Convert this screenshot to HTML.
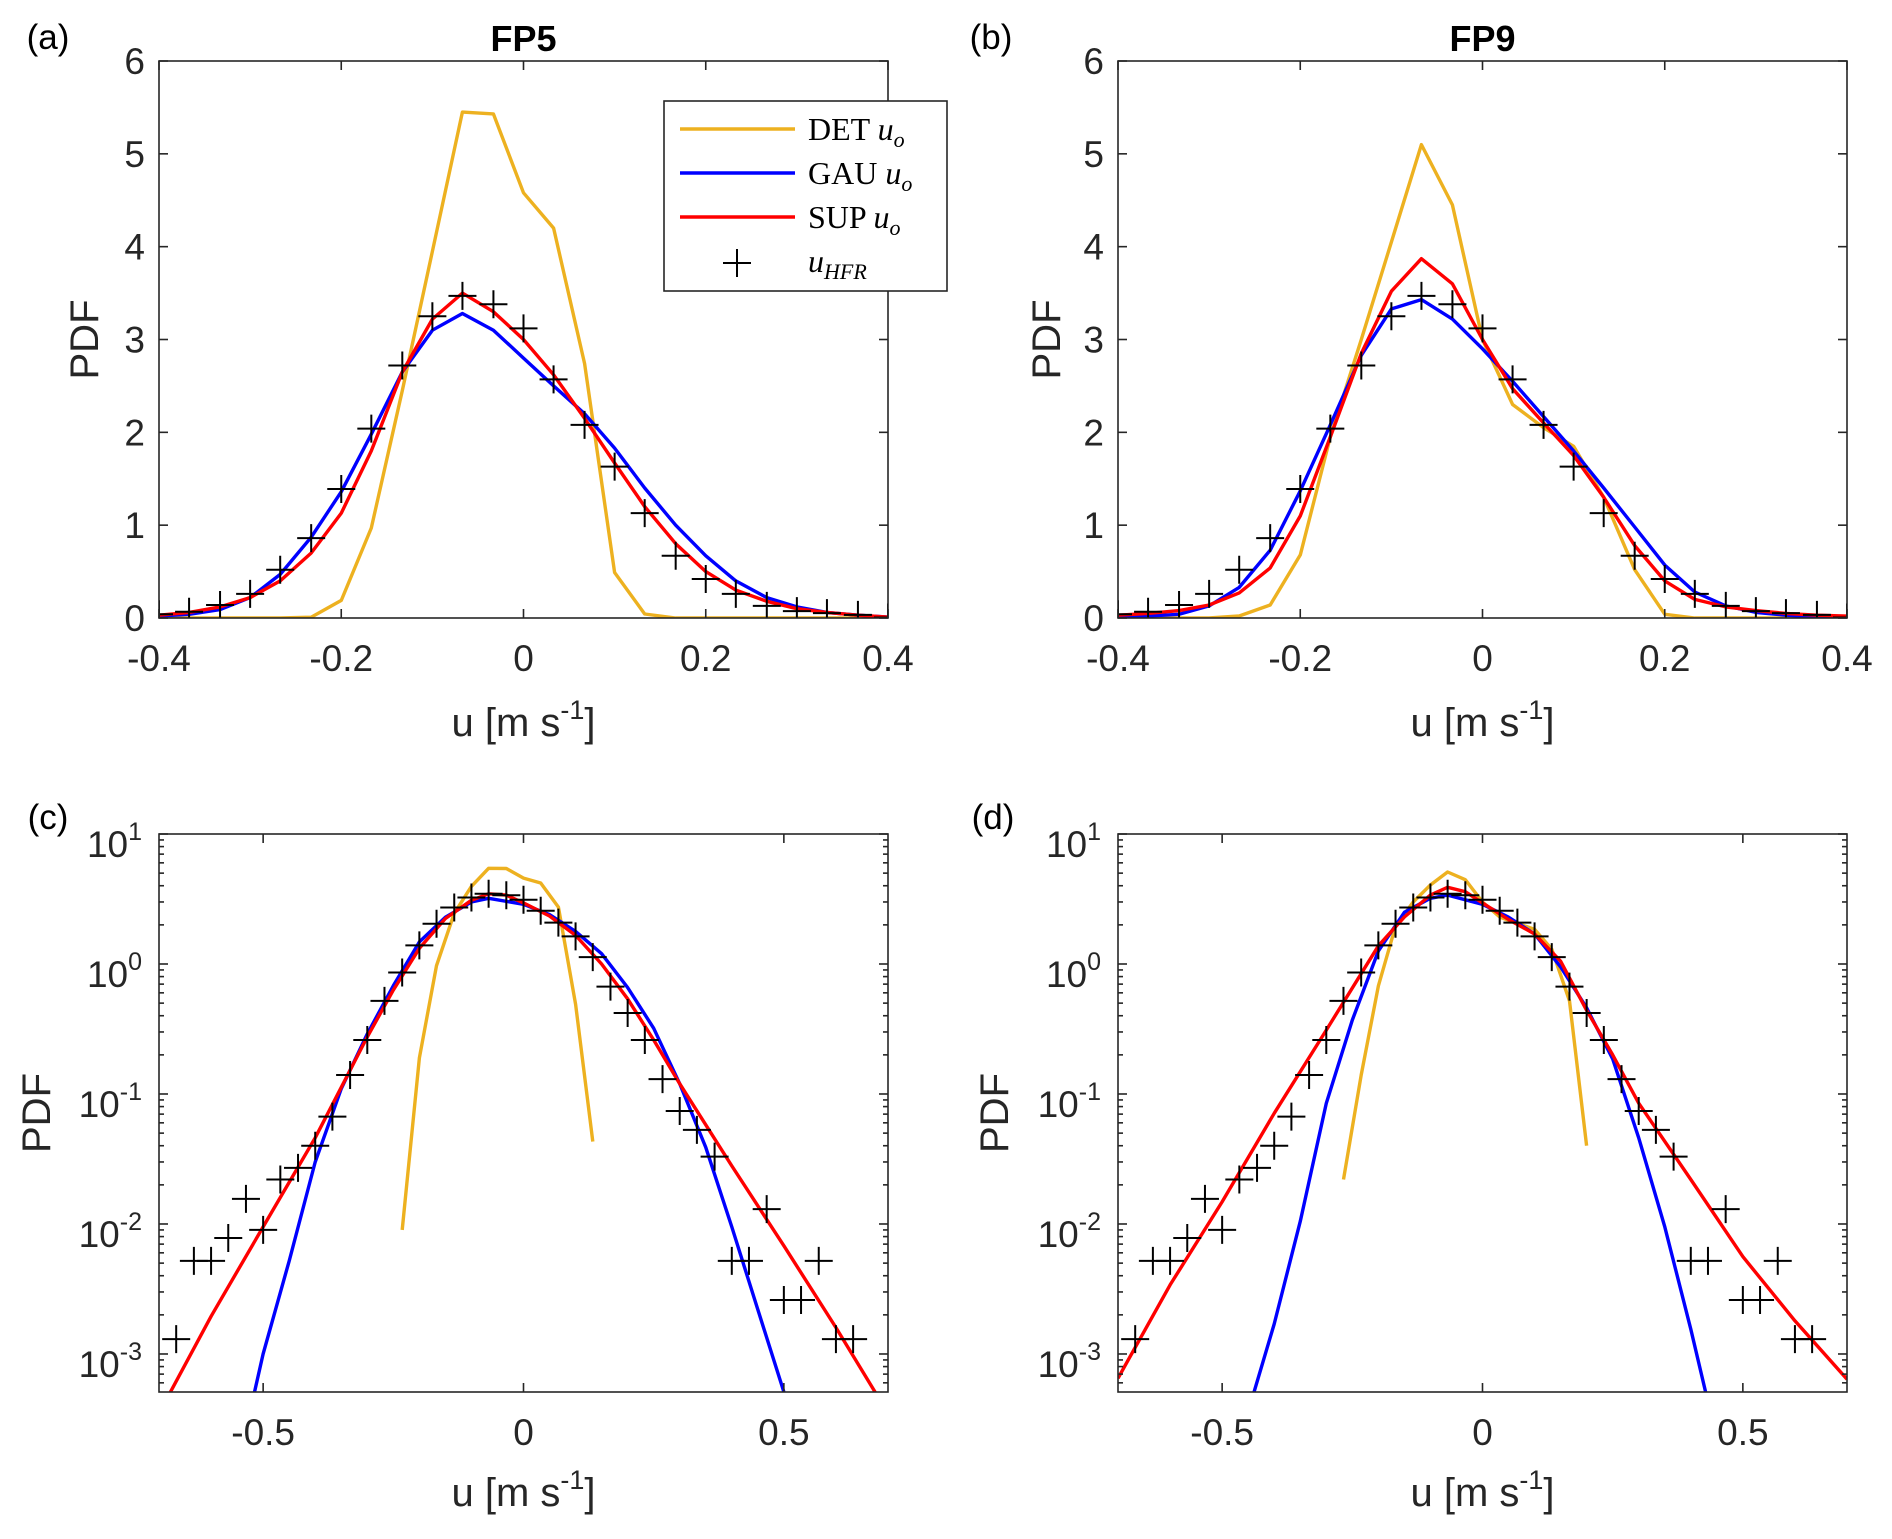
<!DOCTYPE html>
<html><head><meta charset="utf-8"><style>
html,body{margin:0;padding:0;background:#fff;}
svg{display:block;font-family:"Liberation Sans",Arial,sans-serif;}
</style></head><body>
<svg id="fig" width="1892" height="1539" viewBox="0 0 1892 1539" xmlns="http://www.w3.org/2000/svg">
<rect width="1892" height="1539" fill="#fff"/>
</svg>
<script>
// ---------- data ----------
const linU = [-0.4,-0.367,-0.333,-0.3,-0.267,-0.233,-0.2,-0.167,-0.133,-0.1,-0.067,-0.033,0,0.033,0.067,0.1,0.133,0.167,0.2,0.233,0.267,0.3,0.333,0.367,0.4];
const detA = [0,0,0,0,0,0.009,0.19,0.97,2.45,3.95,5.45,5.43,4.58,4.2,2.74,0.49,0.043,0,0,0,0,0,0,0,0];
const gauA = [0.02,0.04,0.09,0.22,0.47,0.87,1.36,1.98,2.65,3.1,3.28,3.1,2.8,2.5,2.2,1.83,1.4,1.0,0.67,0.4,0.22,0.12,0.06,0.03,0.01];
const supA = [0.03,0.06,0.12,0.22,0.4,0.7,1.13,1.8,2.65,3.22,3.5,3.3,3.0,2.62,2.15,1.67,1.2,0.8,0.5,0.3,0.18,0.1,0.06,0.03,0.01];
const detB = [0,0,0,0,0.022,0.14,0.68,1.95,3.0,4.05,5.1,4.45,3.0,2.3,2.05,1.85,1.3,0.52,0.04,0,0,0,0,0,0];
const gauB = [0.01,0.02,0.04,0.13,0.33,0.73,1.37,2.08,2.83,3.33,3.43,3.22,2.9,2.55,2.17,1.8,1.4,0.98,0.57,0.28,0.13,0.06,0.03,0.01,0.01];
const supB = [0.03,0.05,0.08,0.14,0.27,0.54,1.1,1.95,2.85,3.52,3.87,3.6,3.0,2.47,2.1,1.75,1.3,0.78,0.4,0.2,0.12,0.08,0.05,0.03,0.02];

const hfrU = [-0.667,-0.633,-0.6,-0.567,-0.533,-0.5,-0.467,-0.433,-0.4,-0.367,-0.333,-0.3,-0.267,-0.233,-0.2,-0.167,-0.133,-0.1,-0.067,-0.033,0,0.033,0.067,0.1,0.133,0.167,0.2,0.233,0.267,0.3,0.333,0.367,0.4,0.433,0.467,0.5,0.533,0.567,0.6,0.633];
const hfrV = [0.0013,0.0052,0.0052,0.0078,0.0156,0.009,0.022,0.027,0.04,0.067,0.14,0.26,0.52,0.86,1.39,2.04,2.72,3.25,3.47,3.38,3.12,2.57,2.08,1.63,1.13,0.67,0.42,0.26,0.13,0.074,0.053,0.033,0.0052,0.0052,0.013,0.0026,0.0026,0.0052,0.0013,0.0013];

const gauCU = [-0.55,-0.5,-0.45,-0.4,-0.35,-0.3,-0.25,-0.2,-0.15,-0.1,-0.067,0,0.05,0.1,0.15,0.2,0.25,0.3,0.35,0.4,0.45,0.5,0.55];
const gauCV = [0.00013,0.001,0.0052,0.03,0.11,0.29,0.68,1.48,2.29,3.0,3.2,2.88,2.4,1.78,1.2,0.66,0.32,0.12,0.039,0.0095,0.0022,0.00051,0.0001];
const supCU = [-0.7,-0.6,-0.5,-0.4,-0.3,-0.25,-0.2,-0.15,-0.1,-0.067,-0.033,0,0.05,0.1,0.15,0.2,0.25,0.3,0.4,0.5,0.6,0.7];
const supCV = [0.00035,0.00195,0.0095,0.046,0.275,0.63,1.32,2.24,3.09,3.47,3.39,2.95,2.34,1.66,1.0,0.54,0.26,0.12,0.028,0.0068,0.0016,0.00035];
const gauDU = [-0.45,-0.4,-0.35,-0.3,-0.25,-0.2,-0.15,-0.1,-0.067,0,0.05,0.1,0.15,0.2,0.25,0.3,0.35,0.4,0.45];
const gauDV = [0.00036,0.0017,0.0105,0.085,0.37,1.26,2.5,3.2,3.39,2.88,2.29,1.7,0.95,0.46,0.186,0.046,0.0095,0.00155,0.00022];
const supDU = [-0.7,-0.6,-0.5,-0.4,-0.3,-0.2,-0.15,-0.1,-0.067,-0.033,0,0.05,0.1,0.15,0.2,0.25,0.3,0.4,0.5,0.6,0.7];
const supDV = [0.00065,0.0034,0.0148,0.071,0.31,1.38,2.3,3.39,3.89,3.6,2.95,2.2,1.7,1.05,0.44,0.2,0.085,0.022,0.0056,0.0018,0.00064];

const linYTicks = [0,1,2,3,4,5,6];
const linXTicks = [-0.4,-0.2,0,0.2,0.4];
const linXLabels = ["-0.4","-0.2","0","0.2","0.4"];
const logXTicks = [-0.5,0,0.5];
const logXLabels = ["-0.5","0","0.5"];
const logYExp = [1,0,-1,-2,-3];

// ---------- drawing ----------
const NS="http://www.w3.org/2000/svg";
const svg=document.getElementById('fig');
function mk(tag,attrs,parent){const e=document.createElementNS(NS,tag);for(const k in attrs)e.setAttribute(k,attrs[k]);(parent||svg).appendChild(e);return e;}
const ORANGE="#EDB120",BLUE="#0000FF",RED="#FF0000";

function makePanel(id,box,isLog){
  const g=mk('g',{});
  
  
  const xmin=isLog?-0.7:-0.4,xmax=isLog?0.7:0.4;
  const lmin=Math.log10(5.1e-4),lmax=1;
  const sx=u=>box.x0+(u-xmin)/(xmax-xmin)*(box.x1-box.x0);
  const sy=isLog?(v=>box.y1-(Math.log10(v)-lmin)/(lmax-lmin)*(box.y1-box.y0))
                :(v=>box.y1-v/6*(box.y1-box.y0));
  const cp=mk('clipPath',{id:'clip-'+id},g);
  mk('rect',{x:box.x0,y:box.y0,width:box.x1-box.x0,height:box.y1-box.y0},cp);
  const plot=mk('g',{'clip-path':'url(#clip-'+id+')'},g);
  
  
  const tk=mk('g',{stroke:'#262626','stroke-width':1.6},g);
  
  
  const xt=isLog?logXTicks:linXTicks, xl=isLog?logXLabels:linXLabels;
  xt.forEach((t,i)=>{const x=sx(t);
    mk('line',{x1:x,x2:x,y1:box.y1,y2:box.y1-9},tk);mk('line',{x1:x,x2:x,y1:box.y0,y2:box.y0+9},tk);
    const tx=mk('text',{x:x,y:box.y1+53,'text-anchor':'middle','font-size':37,fill:'#262626'},g);
    tx.textContent=xl[i];
    
    
  });
  if(!isLog){
    linYTicks.forEach(t=>{const y=sy(t);
      mk('line',{x1:box.x0,x2:box.x0+9,y1:y,y2:y},tk);mk('line',{x1:box.x1,x2:box.x1-9,y1:y,y2:y},tk);
      const tx=mk('text',{x:box.x0-14,y:y+13,'text-anchor':'end','font-size':37,fill:'#262626'},g);
      tx.textContent=String(t);
      
      
    });
  } else {
    logYExp.forEach(e=>{const y=sy(Math.pow(10,e));
      mk('line',{x1:box.x0,x2:box.x0+9,y1:y,y2:y},tk);mk('line',{x1:box.x1,x2:box.x1-9,y1:y,y2:y},tk);
      const tx=mk('text',{x:box.x0-17,y:y+23,'text-anchor':'end','font-size':37,fill:'#262626'},g);
      
      
      tx.appendChild(document.createTextNode('10'));
      const ts=mk('tspan',{dy:-17,'font-size':25},tx);ts.textContent=String(e);
    });
    for(let e=-4;e<1;e++)for(let m=2;m<10;m++){const v=m*Math.pow(10,e);
      if(v<5.1e-4||v>10)continue;const y=sy(v);
      mk('line',{x1:box.x0,x2:box.x0+5,y1:y,y2:y},tk);mk('line',{x1:box.x1,x2:box.x1-5,y1:y,y2:y},tk);}
  }
  function line(us,vs,color,name){
    const pts=[];us.forEach((u,i)=>{if(!isLog||vs[i]>0)pts.push(sx(u).toFixed(1)+','+sy(vs[i]).toFixed(1));});
    const p=mk('polyline',{points:pts.join(' '),fill:'none',stroke:color,'stroke-width':3.4,'stroke-linejoin':'round'},plot);
    
    
  }
  function markers(){
    const mg=mk('g',{stroke:'#000','stroke-width':2},plot);
    
    
    hfrU.forEach((u,i)=>{
      if(!isLog&&(u<-0.401||u>0.401))return;
      const x=sx(u),y=sy(hfrV[i]);
      const m=mk('path',{d:`M${x-14},${y}H${x+14}M${x},${y-14}V${y+14}`},mg);
      
      
    });
  }
  return {g,sx,sy,line,markers,box};
}

function frame(p){const b=p.box;const r=mk('rect',{x:b.x0,y:b.y0,width:b.x1-b.x0,height:b.y1-b.y0,fill:'none',stroke:'#262626','stroke-width':1.6},p.g);
  }

function texts(id,box,pdfX,labX,labY,xlabY,title){
  const t1=mk('text',{x:labX,y:labY,'text-anchor':'middle','font-size':35,fill:'#000'});
  t1.textContent='('+id+')';
  const cy=(box.y0+box.y1)/2;
  const t2=mk('text',{x:pdfX,y:cy,'text-anchor':'middle','font-size':40,fill:'#262626',transform:`rotate(-90 ${pdfX} ${cy})`,dy:14});
  t2.textContent='PDF';
  const cx=(box.x0+box.x1)/2;
  const t3=mk('text',{x:cx,y:xlabY,'text-anchor':'middle','font-size':40,fill:'#262626'});
  
  t3.appendChild(document.createTextNode('u [m s'));
  const s=mk('tspan',{dy:-17,'font-size':27},t3);s.textContent='-1';
  const s2=mk('tspan',{dy:17},t3);s2.textContent=']';
  if(title){const t4=mk('text',{x:cx,y:51,'text-anchor':'middle','font-size':36,'font-weight':'bold',fill:'#000'});
    t4.textContent=title;}
}

const boxA={x0:159,x1:888,y0:61,y1:618},boxB={x0:1118,x1:1847,y0:61,y1:618};
const boxC={x0:159,x1:888,y0:834,y1:1392},boxD={x0:1118,x1:1847,y0:834,y1:1392};

const pa=makePanel('a',boxA,false);
pa.line(linU,detA,ORANGE,'det-line');pa.line(linU,gauA,BLUE,'gau-line');pa.line(linU,supA,RED,'sup-line');pa.markers();frame(pa);
const pb=makePanel('b',boxB,false);
pb.line(linU,detB,ORANGE,'det-line');pb.line(linU,gauB,BLUE,'gau-line');pb.line(linU,supB,RED,'sup-line');pb.markers();frame(pb);
const pc=makePanel('c',boxC,true);
pc.line(linU,detA,ORANGE,'det-line');pc.line(gauCU,gauCV,BLUE,'gau-line');pc.line(supCU,supCV,RED,'sup-line');pc.markers();frame(pc);
const pd=makePanel('d',boxD,true);
pd.line(linU,detB,ORANGE,'det-line');pd.line(gauDU,gauDV,BLUE,'gau-line');pd.line(supDU,supDV,RED,'sup-line');pd.markers();frame(pd);

texts('a',boxA,84,48,49,736,'FP5');
texts('b',boxB,1046,991,49,736,'FP9');
texts('c',boxC,36,48,829,1506,null);
texts('d',boxD,994,993,829,1506,null);

// legend
const lg=mk('g',{});


mk('rect',{x:664,y:101,width:283,height:190,fill:'#fff',stroke:'#262626','stroke-width':1.6},lg);
const legNames=['DET','GAU','SUP'],legCols=[ORANGE,BLUE,RED],legY=[129,173,217];
legNames.forEach((n,i)=>{
  const e=mk('g',{},lg);
  
  
  mk('line',{x1:680,x2:795,y1:legY[i],y2:legY[i],stroke:legCols[i],'stroke-width':3.4},e);
  const t=mk('text',{x:808,y:legY[i]+11,'font-size':32,'font-family':'"Liberation Serif",serif',fill:'#000'},e);
  t.appendChild(document.createTextNode(n+' '));
  const u=mk('tspan',{'font-style':'italic'},t);u.textContent='u';
  const o=mk('tspan',{'font-style':'italic','font-size':22,dy:7},t);o.textContent='o';
});
const eh=mk('g',{},lg);


mk('path',{d:'M723,263H751M737,249V277',stroke:'#000','stroke-width':2},eh);
const th=mk('text',{x:808,y:272,'font-size':32,'font-family':'"Liberation Serif",serif','font-style':'italic',fill:'#000'},eh);
th.appendChild(document.createTextNode('u'));
const hs=mk('tspan',{'font-size':22,dy:7},th);hs.textContent='HFR';
</script>
</body></html>
